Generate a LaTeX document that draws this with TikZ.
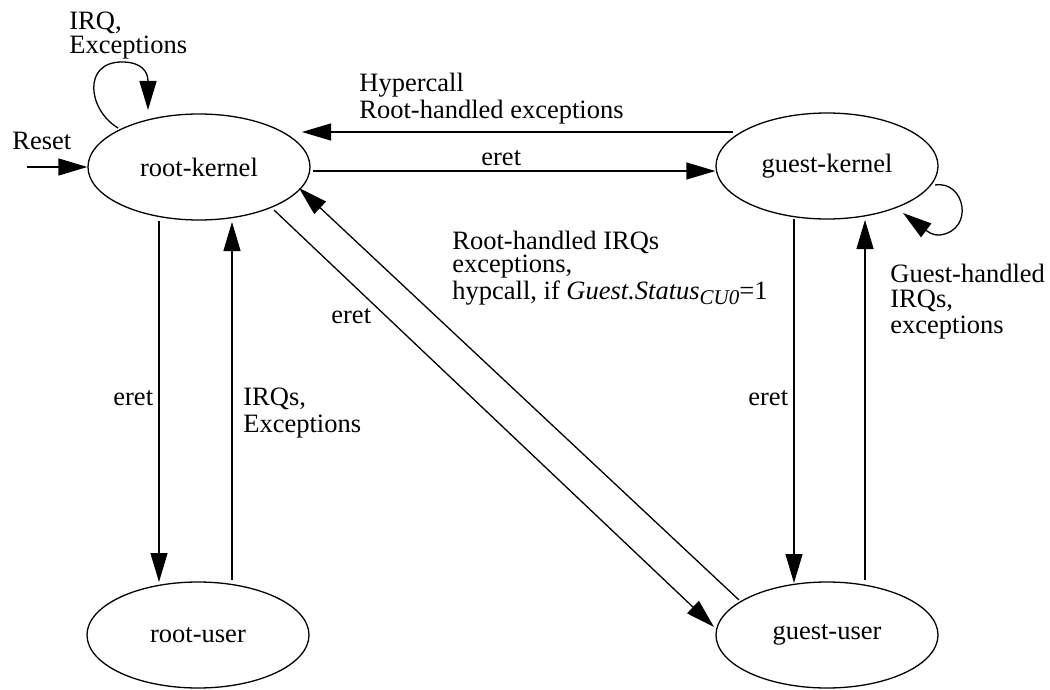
\documentclass[tikz,border=0pt]{standalone}
\usepackage{fontspec}
\setmainfont{Liberation Serif}
\usetikzlibrary{arrows.meta,shapes.geometric,calc}
\begin{document}
\begin{tikzpicture}[x=0.5pt,y=-0.5pt,
  state/.style={ellipse,draw,line width=0.65pt,minimum width=111pt,minimum height=53pt,inner sep=0pt,font=\fontsize{13.25}{15}\selectfont},
  arr/.style={line width=0.65pt,-{Triangle[length=14.5pt,width=8.5pt]}},
  lbl/.style={inner sep=0pt,align=left,anchor=base west},
  fs/.style={font=\fontsize{13.25}{#1}\selectfont}]
\useasboundingbox (0,0) rectangle (1050,690);
\node[state] (rk) at (199,167) {root-kernel};
\node[state] (gk) at (827,166) {guest-kernel};
\node[state] (ru) at (198,635) {root-user};
\node[state] (gu) at (827,635) {guest-user};
\coordinate (reset) at (27,167);

\draw[arr] (reset) -- (rk.west);
\draw[arr] ($(rk.center)+(-81,-39)$) .. controls ($(rk.center)+(-111,-57)$) and ($(rk.center)+(-117,-105)$) .. ($(rk.center)+(-77,-105)$) .. controls ($(rk.center)+(-57,-105)$) and ($(rk.center)+(-51,-95)$) .. ($(rk.center)+(-51,-57)$);
\draw[arr] ($(gk.center)+(108,19)$) .. controls ($(gk.center)+(138,14)$) and ($(gk.center)+(148,64)$) .. ($(gk.center)+(113,69)$) .. controls ($(gk.center)+(106,70)$) and ($(gk.center)+(100,65)$) .. ($(gk.center)+(76,47)$);

\draw[arr] ($(gk.center)+(-94,-34)$) -- ($(rk.center)+(103,-35)$);
\draw[arr] ($(rk.center)+(114,4)$) -- ($(gk.west)+(0,5)$);

\draw[arr] ($(rk.center)+(-40,54)$) -- ($(ru.center)+(-39,-53)$);
\draw[arr] ($(ru.center)+(34,-55)$) -- ($(rk.center)+(33,55)$);
\draw[arr] ($(gk.center)+(-33,53)$) -- ($(gu.center)+(-33,-52)$);
\draw[arr] ($(gu.center)+(38,-55)$) -- ($(gk.center)+(38,54)$);

\draw[arr] ($(rk.center)+(75,43)$) -- ($(gu.center)+(-113,-8)$);
\draw[arr] ($(gu.center)+(-88,-35)$) -- ($(rk.center)+(100,21)$);

\node[lbl,fs=12] (l1) at (69,54) {IRQ,\\Exceptions};
\node[lbl,fs=12] (l2) at (12,149) {Reset};
\node[lbl,fs=13.5] (l3) at (359,119) {Hypercall\\Root-handled exceptions};
\node[lbl,fs=12] (l4) at (481,166) {eret};
\node[lbl,fs=12] (l5) at (113,405) {eret};
\node[lbl,fs=13.5] (l6) at (243,432) {IRQs,\\Exceptions};
\node[lbl,fs=12] (l7) at (331,323) {eret};
\node[lbl,fs=11.75] (l8) at (452,299) {Root-handled IRQs\\exceptions,\\hypcall, if \textit{Guest.Status}\raisebox{-2.5pt}{\fontsize{10.5}{10.5}\selectfont\itshape CU0}=1};
\node[lbl,fs=12] (l9) at (748,405) {eret};
\node[lbl,fs=12.75] (l10) at (890,333) {Guest-handled\\IRQs,\\exceptions};
\end{tikzpicture}
\end{document}
